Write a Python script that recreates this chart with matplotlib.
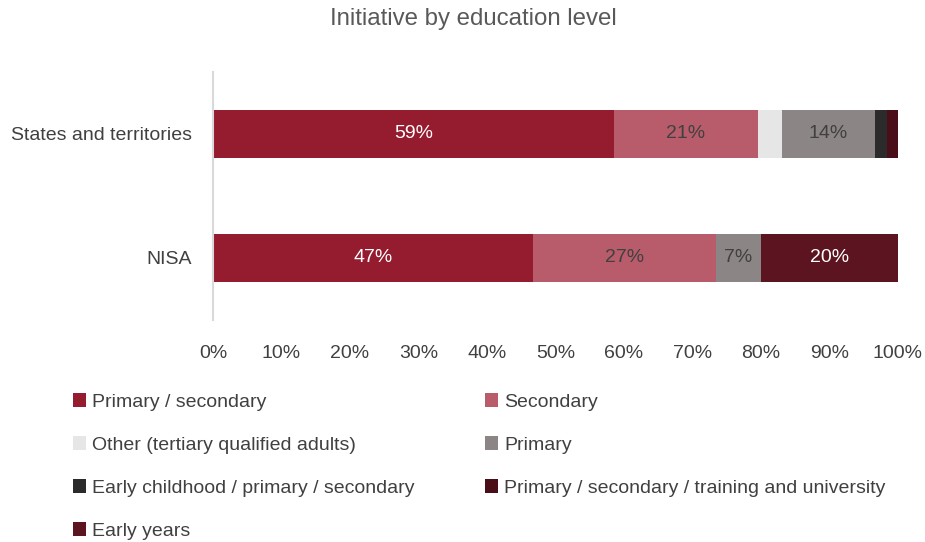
import numpy as np
import matplotlib.pyplot as plt
from matplotlib.patches import Patch

plt.rcParams['font.family'] = ['Liberation Sans', 'DejaVu Sans']

groups = ["States and territories", "NISA"]
levels = ["Primary / secondary", "Secondary", "Other (tertiary qualified adults)", "Primary",
          "Early childhood / primary / secondary", "Primary / secondary / training and university",
          "Early years"]
states = [58.6, 20.9, 3.5, 13.7, 1.7, 1.6, 0]
nisa = [46.7, 26.7, 0, 6.6, 0, 0, 20.0]
colors = ["#951b2e", "#b85c6b", "#e6e6e6", "#8c8585", "#2b2b2b", "#4a0e18", "#5c1520"]
label_colors = ["white", "#404040", "#404040", "#404040", "white", "white", "white"]

fig = plt.figure(figsize=(9.25, 5.42), dpi=100)
ax = fig.add_axes([0.2303, 0.4096, 0.7405, 0.4576])

data = np.array([states, nisa])
ypos = np.arange(len(groups))
left = np.zeros(len(groups))
for i, lev in enumerate(levels):
    vals = data[:, i]
    ax.barh(ypos, vals, left=left, height=0.387, color=colors[i], label=lev)
    for j, v in enumerate(vals):
        if v >= 5:
            ax.text(left[j] + v / 2, ypos[j], f"{round(v):.0f}%", ha='center', va='center',
                    color=label_colors[i], fontsize=14)
    left += vals

ax.set_xlim(0, 100)
ax.set_ylim(1.5, -0.5)
ax.set_yticks(ypos)
ax.set_yticklabels(groups)
ax.set_xticks(np.arange(0, 101, 10))
ax.set_xticklabels([f"{t}%" for t in range(0, 101, 10)])
for s in ['top', 'right', 'bottom']:
    ax.spines[s].set_visible(False)
ax.spines['left'].set_color('#d9d9d9')
ax.spines['left'].set_linewidth(1.5)
ax.tick_params(axis='both', length=0, labelsize=14, colors='#404040')
ax.tick_params(axis='x', pad=18)
ax.tick_params(axis='y', pad=15)

fig.suptitle("Initiative by education level", x=0.512, y=0.985, fontsize=17.3, color='#595959')

handles = [Patch(facecolor=c) for c in colors]
order = [0, 2, 4, 6, 1, 3, 5]
leg = fig.legend([handles[k] for k in order], [levels[k] for k in order], ncol=2,
                 loc='upper left', bbox_to_anchor=(0.068, 0.293), frameon=False, fontsize=14,
                 handlelength=0.7, handleheight=0.7, handletextpad=0.3, labelspacing=1.31,
                 columnspacing=3.6, borderpad=0)
for t in leg.get_texts():
    t.set_color('#404040')

fig.savefig("out.png", dpi=100)
